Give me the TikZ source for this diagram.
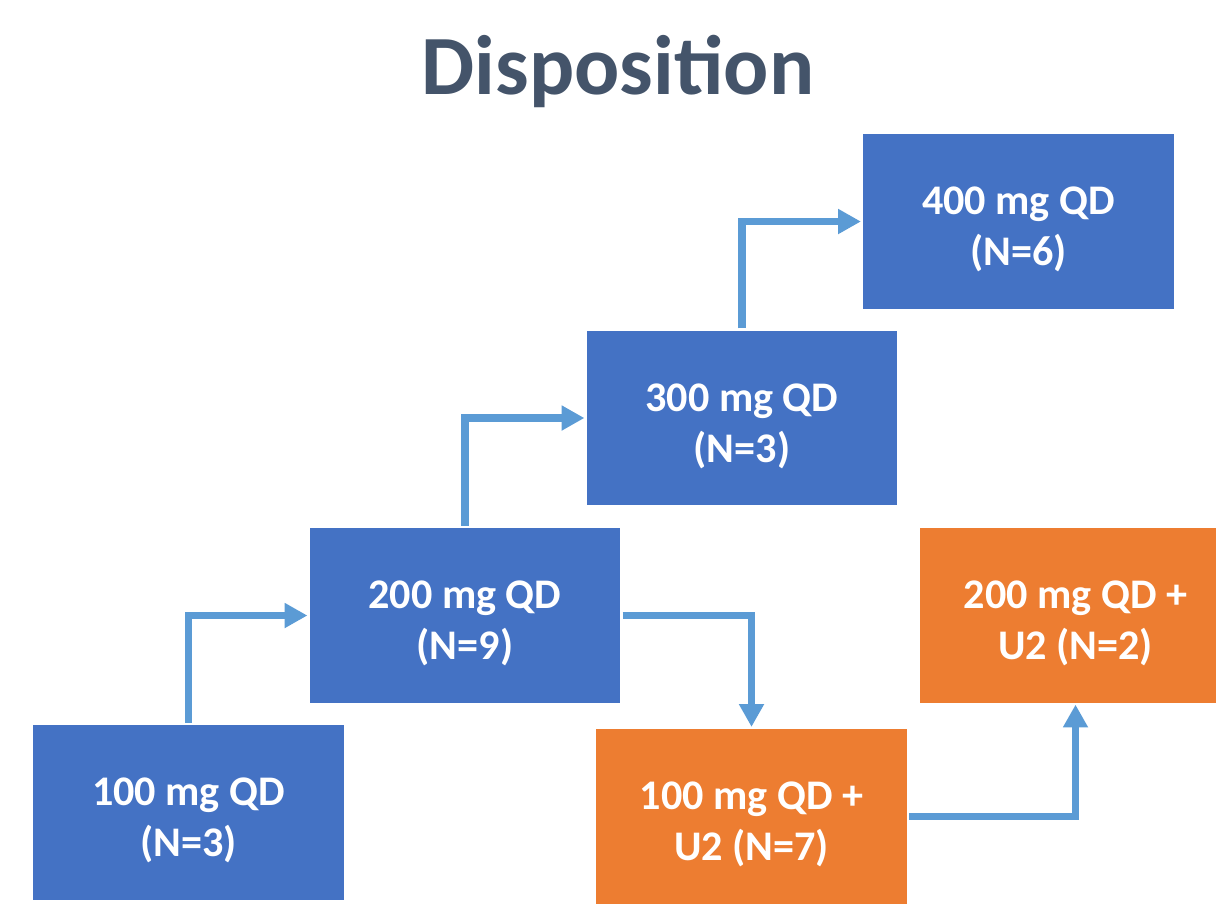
\documentclass[tikz,border=0pt]{standalone}
\usepackage{fontspec}
\setmainfont{Carlito}
\usetikzlibrary{arrows.meta}
\usetikzlibrary{positioning}
\definecolor{doseblue}{HTML}{4472C4}
\definecolor{comboorange}{HTML}{ED7D31}
\definecolor{flowblue}{HTML}{5B9BD5}
\definecolor{titlegray}{HTML}{44546A}
\tikzset{%
  boxtext/.style={text=white,align=center,font=\fontsize{24}{29}\selectfont\bfseries,yshift=-4.5pt},
  dosebox/.style={rectangle,fill=doseblue,draw=none,
    minimum width=6.22cm,minimum height=3.5cm,inner sep=0pt,
    label={[boxtext]center:#1}},
  combobox/.style={dosebox={#1},fill=comboorange},
  flowarrow/.style={draw=flowblue,line width=4.5pt,
    -{Triangle[length=13pt,width=13.5pt]},shorten >=1pt,shorten <=1pt}
}
\begin{document}
\begin{tikzpicture}[x=0.02cm,y=-0.02cm]
    \useasboundingbox (0,0) rectangle (1216,921);
    \node[font=\fontsize{48}{56}\selectfont\bfseries,text=titlegray] (title) at (618,71) {Disposition};
    % dose escalation
    \node[dosebox={100 mg QD\\(N=3)}] (b100) at (188.5,812.5) {};
    \node[dosebox={200 mg QD\\(N=9)}] (b200) at (465,615.5) {};
    \node[dosebox={300 mg QD\\(N=3)}] (b300) at (742,418) {};
    \node[dosebox={400 mg QD\\(N=6)}] (b400) at (1018.5,221.5) {};
    % with U2
    \node[combobox={100 mg QD +\\U2 (N=7)}] (o100) at (751.5,816.5) {};
    \node[combobox={200 mg QD +\\U2 (N=2)}] (o200) at (1075.5,615) {};
    \draw[flowarrow] (b100.north) |- (b200.west);
    \draw[flowarrow] (b200.north) |- (b300.west);
    \draw[flowarrow] (b300.north) |- (b400.west);
    \draw[flowarrow] (b200.east) -| (o100.north);
    \draw[flowarrow] (o100.east) -| (o200.south);
\end{tikzpicture}
\end{document}
